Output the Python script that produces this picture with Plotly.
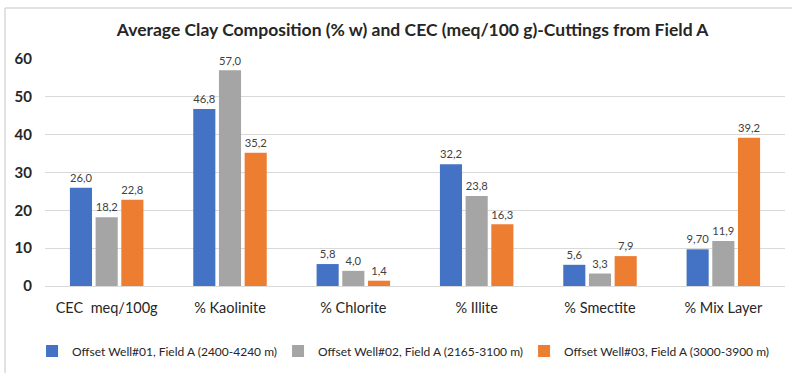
import plotly.graph_objects as go

categories = ["CEC  meq/100g", "% Kaolinite", "% Chlorite", "% Illite", "% Smectite", "% Mix Layer"]
series_names = [
    "Offset Well#01, Field A (2400-4240 m)",
    "Offset Well#02, Field A (2165-3100 m)",
    "Offset Well#03, Field A (3000-3900 m)",
]
well01 = [26.0, 46.8, 5.8, 32.2, 5.6, 9.70]
well02 = [18.2, 57.0, 4.0, 23.8, 3.3, 11.9]
well03 = [22.8, 35.2, 1.4, 16.3, 7.9, 39.2]
well01_labels = ["26,0", "46,8", "5,8", "32,2", "5,6", "9,70"]
well02_labels = ["18,2", "57,0", "4,0", "23,8", "3,3", "11,9"]
well03_labels = ["22,8", "35,2", "1,4", "16,3", "7,9", "39,2"]
y_ticks = [0, 10, 20, 30, 40, 50, 60]

colors = ["#4472C4", "#A5A5A5", "#ED7D31"]
FONT = "Lato"

fig = go.Figure()
for name, vals, labels, col in zip(series_names, [well01, well02, well03],
                                   [well01_labels, well02_labels, well03_labels], colors):
    fig.add_trace(go.Bar(
        x=categories, y=vals, name=name, marker_color=col, marker_line_width=0,
        text=labels, textposition="outside", cliponaxis=False,
        textfont=dict(family=FONT, size=12, color="#404040"),
    ))

fig.update_layout(
    width=792, height=373,
    margin=dict(l=45, r=7, t=59, b=87, autoexpand=False),
    paper_bgcolor="white", plot_bgcolor="white",
    barmode="group", bargap=0.375, bargroupgap=0.14,
    title=dict(text="<b>Average Clay Composition (% w) and CEC (meq/100 g)-Cuttings from Field A</b>",
               x=0.521, xanchor="center", y=0.92, yanchor="middle",
               font=dict(family=FONT, size=17.5, color="#262626")),
    font=dict(family=FONT, color="#262626"),
    showlegend=True,
    legend=dict(orientation="h", x=-0.0175, xanchor="left", y=-0.286, yanchor="middle",
                font=dict(family=FONT, size=12, color="#262626"),
                itemwidth=30, entrywidth=201, entrywidthmode="pixels",
                traceorder="normal", bgcolor="rgba(0,0,0,0)"),
    uniformtext=dict(minsize=8, mode="show"),
)
fig.update_xaxes(showgrid=False, showline=False, ticks="", ticklabelstandoff=11,
                 tickfont=dict(family=FONT, size=14.5, color="#262626"))
fig.update_yaxes(range=[0, 60], tickvals=y_ticks, showgrid=True, gridcolor="#D9D9D9", gridwidth=1.3,
                 zeroline=True, zerolinecolor="#D9D9D9", zerolinewidth=1.3, showline=False,
                 ticklabelstandoff=12,
                 tickfont=dict(family=FONT, size=15, color="#262626", weight="bold"))

fig.add_shape(type="line", xref="paper", yref="paper",
              x0=(5 - 45) / 740, x1=(792 - 45) / 740, y0=(286 - 8) / 227, y1=(286 - 8) / 227,
              line=dict(color="#D9D9D9", width=1.5))
fig.add_shape(type="line", xref="paper", yref="paper",
              x0=(5 - 45) / 740, x1=(5 - 45) / 740, y0=(286 - 8) / 227, y1=(286 - 373) / 227,
              line=dict(color="#D9D9D9", width=1.5))

fig.write_html("out.html", config={"displayModeBar": False},
               post_script="document.body.style.margin='0';")
